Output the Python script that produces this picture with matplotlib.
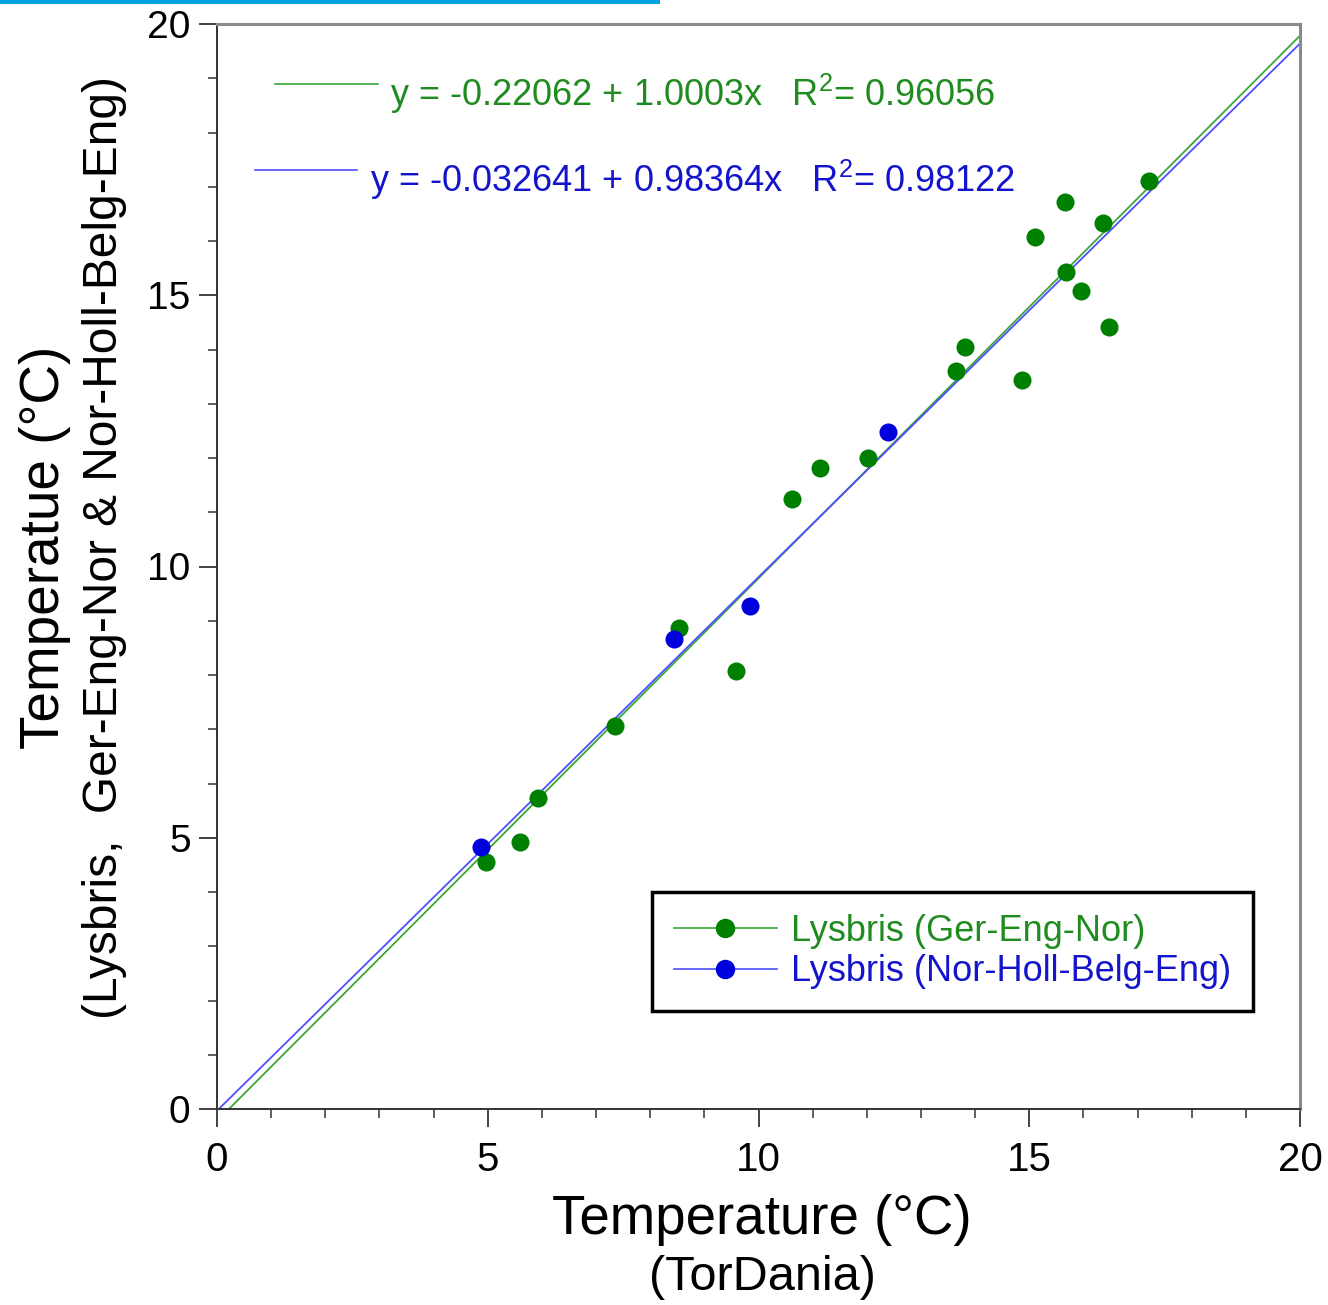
import matplotlib
matplotlib.use("Agg")
import matplotlib.pyplot as plt
from matplotlib.lines import Line2D
from matplotlib.patches import Rectangle
from matplotlib.ticker import MultipleLocator
import numpy as np

plt.rcParams['font.family'] = ['Liberation Sans', 'DejaVu Sans']
plt.rcParams['mathtext.default'] = 'regular'

# Data
green_x = [4.97, 5.60, 5.93, 7.35, 8.53, 9.58, 10.62, 11.14, 12.02, 13.65,
           13.81, 14.87, 15.11, 15.66, 15.68, 15.96, 16.36, 16.47, 17.21]
green_y = [4.55, 4.92, 5.73, 7.06, 8.87, 8.07, 11.24, 11.82, 12.00, 13.60,
           14.05, 13.44, 16.07, 16.72, 15.43, 15.08, 16.33, 14.41, 17.11]
blue_x = [4.88, 8.44, 9.84, 12.39]
blue_y = [4.83, 8.66, 9.27, 12.48]

green_fit = (-0.22062, 1.0003, 0.96056)
blue_fit = (-0.032641, 0.98364, 0.98122)

green_label = 'Lysbris (Ger-Eng-Nor)'
blue_label = 'Lysbris (Nor-Holl-Belg-Eng)'

W, H = 1328, 1305
fig = plt.figure(figsize=(W / 100, H / 100), dpi=100)
ax = fig.add_axes([217 / W, 1 - 1109 / H, (1300 - 217) / W, (1109 - 24) / H])

GREEN_M = '#008000'
BLUE_M = '#0000dd'
GREEN_L = '#3aa63a'
BLUE_L = '#4f4fff'
GREEN_T = '#1f8c1f'
BLUE_T = '#1414cc'

xmax = 20
for (b, m, r2), col in [(green_fit, GREEN_L), (blue_fit, BLUE_L)]:
    x0 = -b / m
    xs = np.array([x0, xmax])
    ax.plot(xs, b + m * xs, color=col, lw=1.3, zorder=2)

ax.scatter(green_x, green_y, s=13 ** 2, color=GREEN_M, zorder=3, linewidths=0)
ax.scatter(blue_x, blue_y, s=13 ** 2, color=BLUE_M, zorder=4, linewidths=0)

ax.set_xlim(0, 20)
ax.set_ylim(0, 20)
ax.xaxis.set_major_locator(MultipleLocator(5))
ax.yaxis.set_major_locator(MultipleLocator(5))
ax.xaxis.set_minor_locator(MultipleLocator(1))
ax.yaxis.set_minor_locator(MultipleLocator(1))
ax.tick_params(which='major', direction='out', length=13, width=1.3, color='#333333',
               labelsize=28, top=False, right=False)
ax.tick_params(axis='x', which='major', pad=10, labelsize=29)
ax.tick_params(axis='y', which='major', pad=6)
ax.tick_params(which='minor', direction='out', length=6.5, width=1.1, color='#333333',
               top=False, right=False)
for s in ['left', 'bottom']:
    ax.spines[s].set_color('#333333')
    ax.spines[s].set_linewidth(1.4)
for s in ['top', 'right']:
    ax.spines[s].set_color('#8a8a8a')
    ax.spines[s].set_linewidth(2.2)

# equation annotations
def px(x, y):
    return x / W, 1 - y / H

for (b, m, r2), col, tcol, (lx0, lx1, ly), (tx, ty) in [
        (green_fit, GREEN_L, GREEN_T, (275, 378, 84), (390, 94)),
        (blue_fit, BLUE_L, BLUE_T, (255, 357, 170), (370, 180))]:
    fig.add_artist(Line2D([lx0 / W, lx1 / W], [1 - ly / H, 1 - ly / H],
                          color=col, lw=1.2, transform=fig.transFigure))
    fig.text(*px(tx, ty), f'y = {b:g} + {m:g}x   R$^2$= {r2:g}', color=tcol,
             fontsize=26, ha='left', va='center')

# legend
handles = [
    Line2D([], [], color=GREEN_L, lw=1.2, marker='o', markersize=13,
           markerfacecolor=GREEN_M, markeredgecolor=GREEN_M),
    Line2D([], [], color=BLUE_L, lw=1.2, marker='o', markersize=13,
           markerfacecolor=BLUE_M, markeredgecolor=BLUE_M),
]
leg = ax.legend(handles, [green_label, blue_label], loc='lower right',
                bbox_to_anchor=(1253 / W, 1 - 1011 / H), bbox_transform=fig.transFigure,
                fontsize=26, numpoints=1, handlelength=2.85, handletextpad=0.4,
                labelspacing=0.15, borderpad=0.6, borderaxespad=0, fancybox=False,
                framealpha=1, edgecolor='black', labelcolor=[GREEN_T, BLUE_T])
leg.get_frame().set_linewidth(2.5)

# axis labels
fig.text(*px(762, 1220), 'Temperature (°C)', fontsize=39.3, ha='center', va='center')
fig.text(*px(762, 1278), '(TorDania)', fontsize=35, ha='center', va='center')
fig.text(*px(45, 547), 'Temperatue (°C)', fontsize=39.5, ha='center', va='center',
         rotation=90)
fig.text(*px(105, 547), '(Lysbris,  Ger-Eng-Nor & Nor-Holl-Belg-Eng)', fontsize=34.5,
         ha='center', va='center', rotation=90)

# cyan strip at the top
fig.add_artist(Rectangle((0, 1 - 4 / H), 660 / W, 4 / H, transform=fig.transFigure,
                         color='#00a3e0', lw=0))

fig.savefig('out.png', dpi=100)
